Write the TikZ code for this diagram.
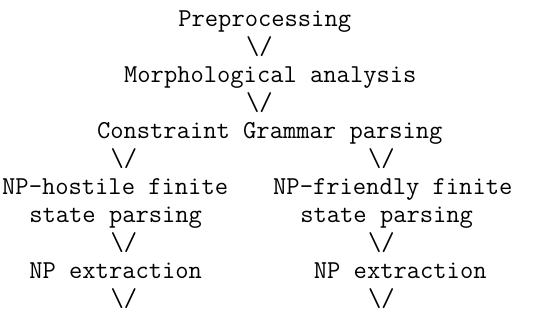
\documentclass[tikz,border=0pt]{standalone}
\begin{document}
\begin{tikzpicture}[x=1pt,y=-1pt,
  txt/.style={inner sep=0pt, anchor=base west, font=\fontsize{25.8}{28}\selectfont\ttfamily}]
\useasboundingbox (0,0) rectangle (543,322);
\def\cw{13.55}
\def\xo{2}
\newcommand{\vv}{\textbackslash/}
% rows (baselines)
\node[txt] (pre)  at ({\xo+13*\cw}, 26)  {Preprocessing};
\node[txt] (a1)   at ({\xo+18*\cw}, 54)  {\vv};
\node[txt] (mor)  at ({\xo+9*\cw},  82)  {Morphological analysis};
\node[txt] (a2)   at ({\xo+18*\cw}, 110) {\vv};
\node[txt] (cg)   at ({\xo+7*\cw},  138) {Constraint Grammar parsing};
\node[txt] (a3l)  at ({\xo+8*\cw},  166) {\vv};
\node[txt] (a3r)  at ({\xo+27*\cw}, 166) {\vv};
\node[txt] (hos1) at ({\xo+0*\cw},  194) {NP-hostile finite};
\node[txt] (fri1) at ({\xo+20*\cw}, 194) {NP-friendly finite};
\node[txt] (hos2) at ({\xo+2*\cw},  222) {state parsing};
\node[txt] (fri2) at ({\xo+22*\cw}, 222) {state parsing};
\node[txt] (a4l)  at ({\xo+8*\cw},  250) {\vv};
\node[txt] (a4r)  at ({\xo+27*\cw}, 250) {\vv};
\node[txt] (exl)  at ({\xo+2*\cw},  278) {NP extraction};
\node[txt] (exr)  at ({\xo+23*\cw}, 278) {NP extraction};
\node[txt] (a5l)  at ({\xo+8*\cw},  306) {\vv};
\node[txt] (a5r)  at ({\xo+27*\cw}, 306) {\vv};
\end{tikzpicture}
\end{document}
